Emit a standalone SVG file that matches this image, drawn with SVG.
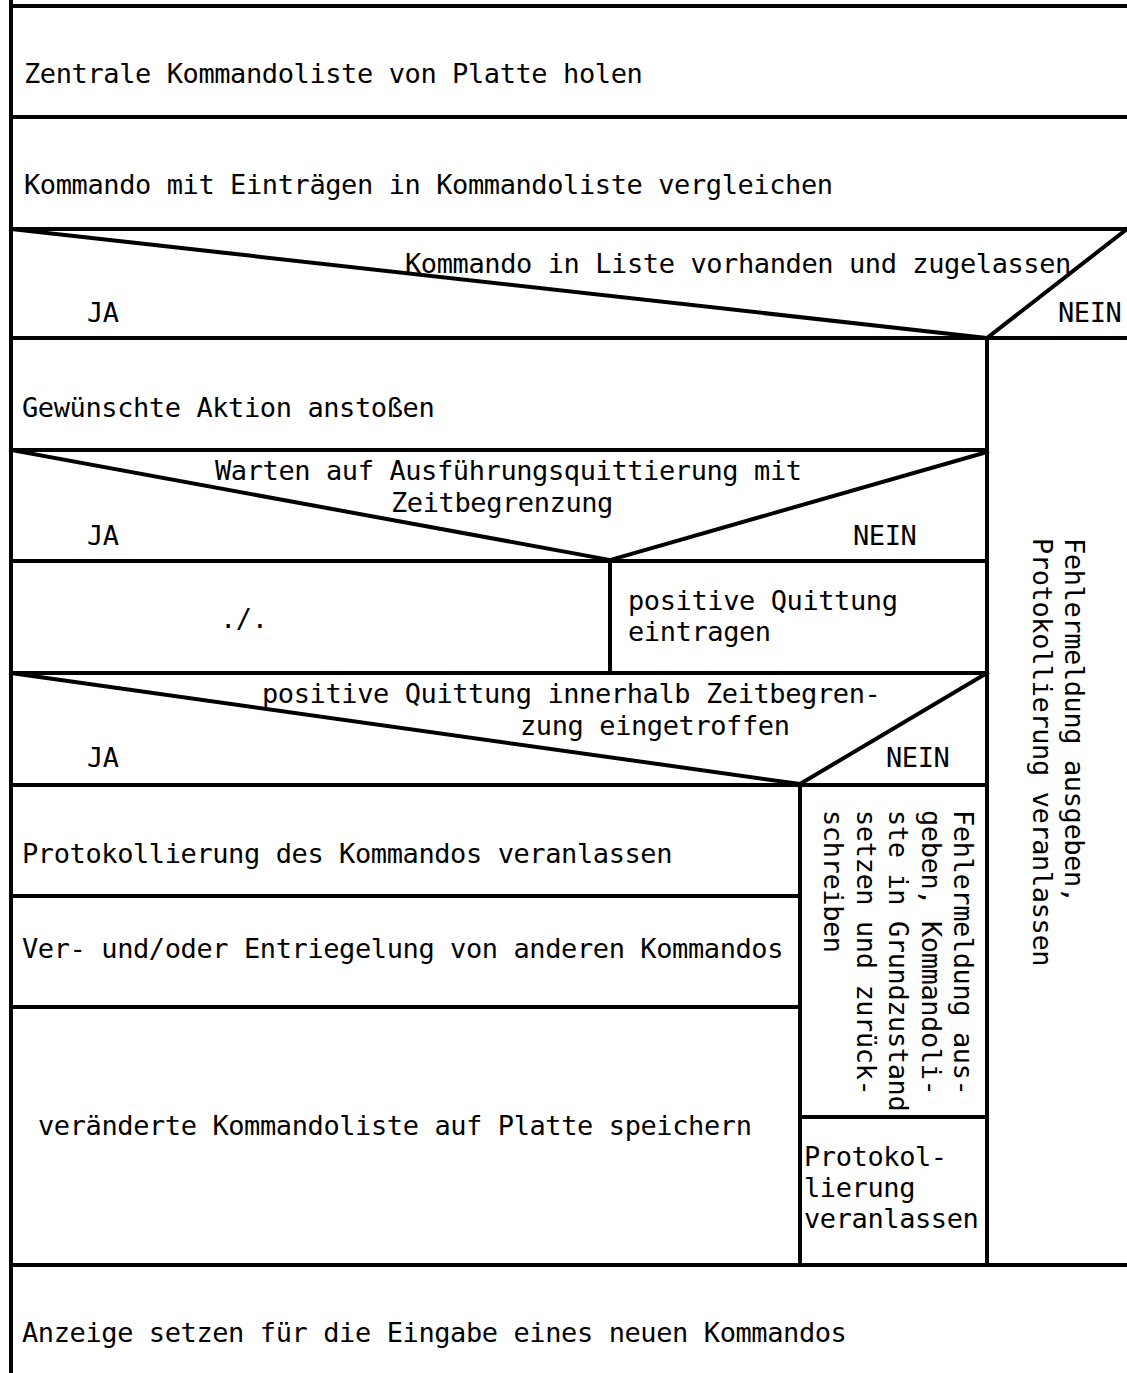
<svg xmlns="http://www.w3.org/2000/svg" width="1127" height="1373" viewBox="0 0 1127 1373">
  <style>
    .ln { stroke: #000; stroke-width: 4; fill: none; stroke-linecap: square; }
    text { font-family: "DejaVu Sans Mono", "Liberation Mono", monospace; font-size: 27px; letter-spacing: -0.4px; fill: #000; }
  </style>
  <rect x="0" y="0" width="1127" height="1373" fill="#fff"/>

  <!-- structogram frame: block borders, decision diagonals -->
  <g id="frame">
    <line class="ln" x1="11" y1="0" x2="11" y2="1373"/>
    <line class="ln" x1="11" y1="6" x2="1127" y2="6"/>
    <line class="ln" x1="11" y1="117" x2="1127" y2="117"/>
    <line class="ln" x1="11" y1="229" x2="1127" y2="229"/>
    <line class="ln" x1="11" y1="338" x2="1127" y2="338"/>
    <line class="ln" x1="11" y1="229" x2="987" y2="338"/>
    <line class="ln" x1="987" y1="338" x2="1127" y2="229"/>
    <line class="ln" x1="987" y1="338" x2="987" y2="1265"/>
    <line class="ln" x1="11" y1="450" x2="987" y2="450"/>
    <line class="ln" x1="11" y1="450" x2="610" y2="560"/>
    <line class="ln" x1="987" y1="452" x2="610" y2="560"/>
    <line class="ln" x1="11" y1="561" x2="987" y2="561"/>
    <line class="ln" x1="610" y1="561" x2="610" y2="673"/>
    <line class="ln" x1="11" y1="673" x2="987" y2="673"/>
    <line class="ln" x1="11" y1="673" x2="800" y2="784"/>
    <line class="ln" x1="987" y1="673" x2="800" y2="784"/>
    <line class="ln" x1="11" y1="785" x2="987" y2="785"/>
    <line class="ln" x1="800" y1="785" x2="800" y2="1265"/>
    <line class="ln" x1="11" y1="896" x2="800" y2="896"/>
    <line class="ln" x1="11" y1="1007" x2="800" y2="1007"/>
    <line class="ln" x1="800" y1="1117" x2="987" y2="1117"/>
    <line class="ln" x1="11" y1="1265" x2="1127" y2="1265"/>
  </g>

  <g id="connectors"/>

  <g id="n-liste-holen">
    <text x="24" y="83">Zentrale Kommandoliste von Platte holen</text>
  </g>
  <g id="n-vergleichen">
    <text x="24" y="194">Kommando mit Einträgen in Kommandoliste vergleichen</text>
  </g>
  <g id="n-entscheidung-zugelassen">
    <text x="405" y="273">Kommando in Liste vorhanden und zugelassen</text>
    <text x="87" y="322">JA</text>
    <text x="1058" y="322">NEIN</text>
  </g>
  <g id="n-aktion">
    <text x="22" y="417">Gewünschte Aktion anstoßen</text>
  </g>
  <g id="n-entscheidung-warten">
    <text x="215" y="480">Warten auf Ausführungsquittierung mit</text>
    <text x="391" y="512">Zeitbegrenzung</text>
    <text x="87" y="545">JA</text>
    <text x="853" y="545">NEIN</text>
  </g>
  <g id="n-leer">
    <text x="220" y="628">./.</text>
  </g>
  <g id="n-quittung-eintragen">
    <text x="628" y="610">positive Quittung</text>
    <text x="628" y="641">eintragen</text>
  </g>
  <g id="n-entscheidung-eingetroffen">
    <text x="262" y="703">positive Quittung innerhalb Zeitbegren-</text>
    <text x="520" y="735">zung eingetroffen</text>
    <text x="87" y="767">JA</text>
    <text x="886" y="767">NEIN</text>
  </g>
  <g id="n-protokollierung">
    <text x="22" y="863">Protokollierung des Kommandos veranlassen</text>
  </g>
  <g id="n-verriegelung">
    <text x="22" y="958">Ver- und/oder Entriegelung von anderen Kommandos</text>
  </g>
  <g id="n-speichern">
    <text x="38" y="1135">veränderte Kommandoliste auf Platte speichern</text>
  </g>
  <g id="n-fehler-grundzustand">
    <text transform="translate(954,810) rotate(90)">
      <tspan x="0" y="0">Fehlermeldung aus-</tspan>
      <tspan x="0" y="32.5">geben, Kommandoli-</tspan>
      <tspan x="0" y="65">ste in Grundzustand</tspan>
      <tspan x="0" y="97.5">setzen und zurück-</tspan>
      <tspan x="0" y="130">schreiben</tspan>
    </text>
  </g>
  <g id="n-protokoll-fehler">
    <text x="804" y="1166">Protokol-</text>
    <text x="804" y="1197">lierung</text>
    <text x="804" y="1228">veranlassen</text>
  </g>
  <g id="n-fehlermeldung">
    <text transform="translate(1065,538) rotate(90)">
      <tspan x="0" y="0">Fehlermeldung ausgeben,</tspan>
      <tspan x="0" y="32">Protokollierung veranlassen</tspan>
    </text>
  </g>
  <g id="n-anzeige">
    <text x="22" y="1342">Anzeige setzen für die Eingabe eines neuen Kommandos</text>
  </g>
</svg>
